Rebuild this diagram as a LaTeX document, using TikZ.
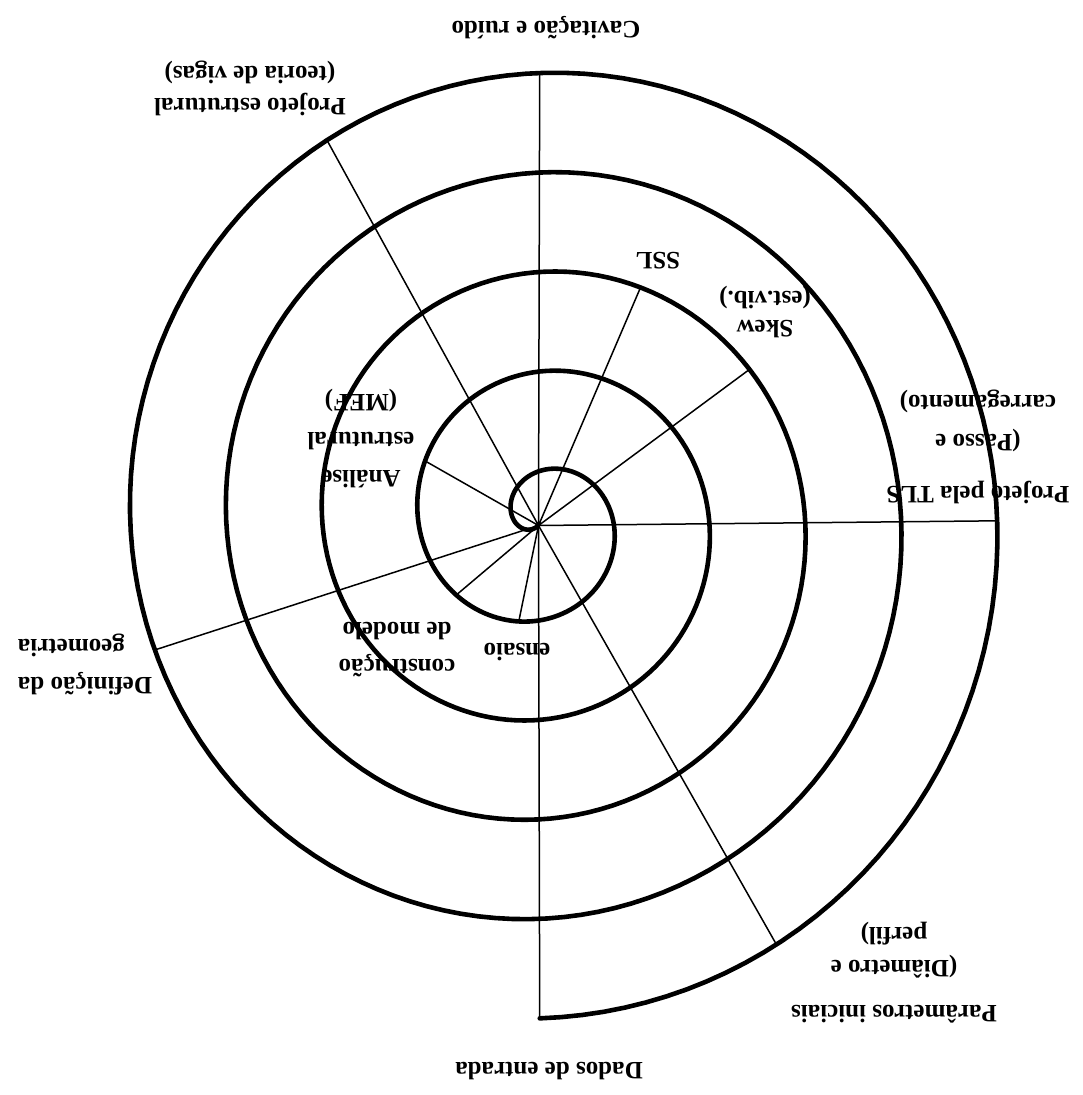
\documentclass[tikz,border=0pt]{standalone}
\usepackage{fontspec}
\setmainfont{Liberation Serif}
\begin{document}
\begin{tikzpicture}[x=1bp,y=-1bp,
  spiralline/.style={line width=4.6bp,line cap=round,line join=round},
  ray/.style={line width=1.5bp},
  lbl/.style={rotate=180,align=center,inner sep=0pt,font=\fontsize{25bp}{36bp}\selectfont\bfseries}]
\fill[white] (0,0) rectangle (1083,1095);
\useasboundingbox (0,0) rectangle (1083,1095);
% spiral
\draw[spiralline] plot[domain=100:1890,samples=700,variable=\p]
  ({539.7+(-22.5+0.266667*\p)*cos(\p)},{520.8+(-24.8+0.276389*\p)*sin(\p)});
% centre and end points
\coordinate (c) at (538.5,525.5);
\foreach \nm/\ph in {eCav/1710,eTLS/1800,eDados/1890,eProj/1680,eDef/1602,ePar/1860,eSSL/1014,eSkew/1045,eAn/567,eCon/499,eEns/462}{
  \coordinate (\nm) at ({539.7+(-22.5+0.266667*\ph)*cos(\ph)},{520.8+(-24.8+0.276389*\ph)*sin(\ph)});
}
\foreach \nm in {eCav,eTLS,eDados,eProj,eDef,ePar,eSSL,eSkew,eAn,eCon,eEns}{
  \draw[ray] (c) -- (\nm);
}
% labels (upside down)
\node[lbl] (tCav) at (546,28) {Cavitação e ruído};
\node[lbl] (tProj) at (250,88) {Projeto estrutural\\[-4bp](teoria de vigas)};
\node[lbl] (tTLS) at (978,447) {Projeto pela TLS\\[16bp](Passo e\\[3bp]carregamento)};
\node[lbl] (tPar) at (894,973) {Parâmetros iniciais\\[9bp](Diâmetro e\\[-3bp]perfil)};
\node[lbl] (tDados) at (549,1071) {Dados de entrada};
\node[lbl,align=right] (tDef) at (85,665) {Definição da\\[2bp]geometria};
\node[lbl] (tAn) at (361,439) {Análise\\[2bp]estrutural\\[2bp](MEF)};
\node[lbl] (tCon) at (397,650) {construção\\[1bp]de modelo};
\node[lbl] (tEns) at (517,652) {ensaio};
\node[lbl] (tSSL) at (658,261) {SSL};
\node[lbl] (tSkew) at (765,312) {Skew\\[-7bp](est.vib.)};
\end{tikzpicture}
\end{document}
